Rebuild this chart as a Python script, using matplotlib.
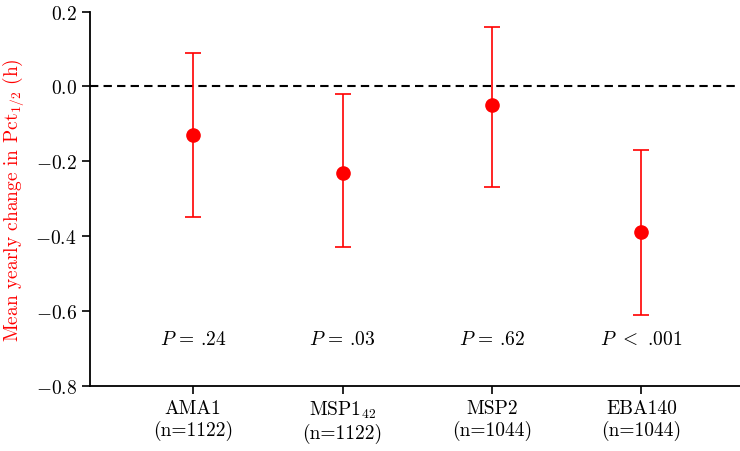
import matplotlib
matplotlib.use("Agg")
import matplotlib.pyplot as plt
import numpy as np

# values
antigens = ["AMA1", "MSP1$_{42}$", "MSP2", "EBA140"]
n_obs = [1122, 1122, 1044, 1044]
mean_change = [-0.13, -0.23, -0.05, -0.39]
ci_low = [-0.35, -0.43, -0.27, -0.61]
ci_high = [0.09, -0.02, 0.16, -0.17]
p_labels = ["$P$ = .24", "$P$ = .03", "$P$ = .62", "$P$ $<$ .001"]

plt.rcParams["font.family"] = ["cmr10", "DejaVu Serif"]
plt.rcParams["mathtext.fontset"] = "cm"
plt.rcParams["axes.formatter.use_mathtext"] = True

fig = plt.figure(figsize=(7.4, 4.52), dpi=100)
ax = fig.add_axes([0.1216, 0.1445, 0.8784, 0.8274])

x = np.arange(len(antigens))
mean = np.array(mean_change)
yerr = [mean - np.array(ci_low), np.array(ci_high) - mean]

ax.axhline(0, color="black", linestyle="--", linewidth=1.5, dashes=(4, 2.5), zorder=1)
ax.errorbar(x, mean, yerr=yerr, fmt="o", color="#ff0000", ecolor="#ff0000",
            markersize=9.5, elinewidth=1.2, capsize=5.5, capthick=1.2, zorder=3)

for xi, lab in zip(x, p_labels):
    ax.text(xi, -0.675, lab, ha="center", va="center", fontsize=14)

ax.set_xlim(-0.69, 3.66)
ax.set_ylim(-0.8, 0.2)
ax.set_yticks([0.2, 0.0, -0.2, -0.4, -0.6, -0.8])
ax.set_xticks(x)
ax.set_xticklabels([f"{a}\n(n={n})" for a, n in zip(antigens, n_obs)], fontsize=14)
ax.tick_params(axis="y", labelsize=14, width=1.2, length=6)
ax.tick_params(axis="x", width=1.2, length=6)

ax.spines["top"].set_visible(False)
ax.spines["right"].set_visible(False)
ax.spines["left"].set_linewidth(1.3)
ax.spines["bottom"].set_linewidth(1.3)

ax.set_ylabel("Mean yearly change in Pct$_{1/2}$ (h)", color="#ff0000", fontsize=14)
ax.yaxis.set_label_coords(-0.098, 0.5)

fig.savefig("out.png", dpi=100)
